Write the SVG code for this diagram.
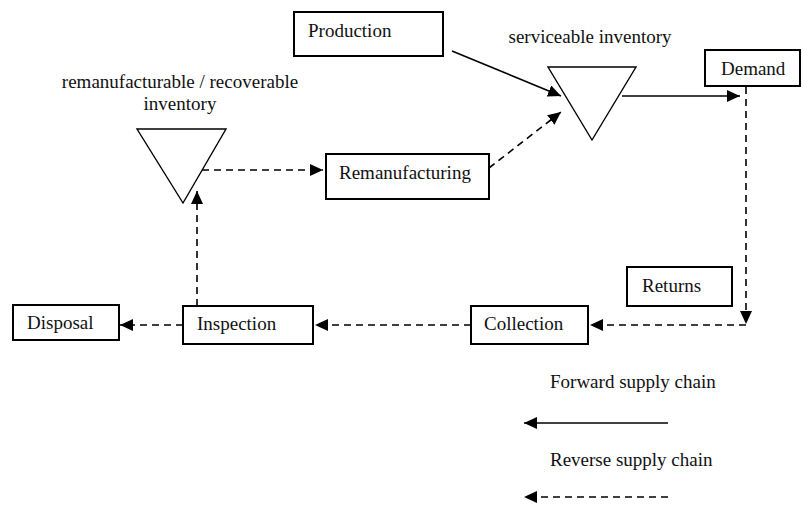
<svg xmlns="http://www.w3.org/2000/svg" width="803" height="508" viewBox="0 0 803 508">
<defs>
<style>
text{font-family:"Liberation Serif","Times New Roman",serif;font-size:19px;fill:#111}
.box{fill:#fff;stroke:#000;stroke-width:2}
.tri{fill:#fff;stroke:#000;stroke-width:1.4}
.c{fill:none;stroke:#000;stroke-width:1.6}
.d{stroke-dasharray:7 5}
</style>
<marker id="ah" viewBox="0 0 13 12" refX="13" refY="6" markerWidth="13" markerHeight="12" markerUnits="userSpaceOnUse" orient="auto">
<path d="M0,0 L13,6 L0,12 z" fill="#000"/>
</marker>
</defs>
<rect width="803" height="508" fill="#fff"/>
<g id="connectors">
<line class="c" x1="452" y1="51" x2="561" y2="96" marker-end="url(#ah)"/>
<line class="c d" x1="489" y1="168" x2="561" y2="112" marker-end="url(#ah)"/>
<line class="c" x1="622" y1="96" x2="740" y2="96" marker-end="url(#ah)"/>
<line class="c d" x1="746" y1="87" x2="746" y2="324" marker-end="url(#ah)"/>
<line class="c d" x1="746" y1="325" x2="590" y2="325" marker-end="url(#ah)"/>
<line class="c d" x1="471" y1="325" x2="315" y2="325" marker-end="url(#ah)"/>
<line class="c d" x1="183" y1="325" x2="120" y2="325" marker-end="url(#ah)"/>
<line class="c d" x1="197" y1="306" x2="197" y2="191" marker-end="url(#ah)"/>
<line class="c d" x1="202" y1="170" x2="323" y2="170" marker-end="url(#ah)"/>
</g>
<g id="production"><rect class="box" x="294" y="12" width="149" height="44"/><text x="308" y="37">Production</text></g>
<g id="serviceable-inventory"><text x="590" y="43" text-anchor="middle">serviceable inventory</text><polygon class="tri" points="548,67 636,67 592,140"/></g>
<g id="demand"><rect class="box" x="705" y="50" width="95" height="36"/><text x="721" y="75">Demand</text></g>
<g id="remanufacturable-inventory"><text x="180" y="88" text-anchor="middle">remanufacturable / recoverable</text><text x="180" y="110" text-anchor="middle">inventory</text><polygon class="tri" points="137,129 226,129 183,203"/></g>
<g id="remanufacturing"><rect class="box" x="326" y="154" width="163" height="45"/><text x="339" y="179">Remanufacturing</text></g>
<g id="returns"><rect class="box" x="627" y="267" width="105" height="39"/><text x="642" y="292">Returns</text></g>
<g id="collection"><rect class="box" x="471" y="306" width="117" height="38"/><text x="484" y="330">Collection</text></g>
<g id="inspection"><rect class="box" x="183" y="306" width="130" height="38"/><text x="197" y="330">Inspection</text></g>
<g id="disposal"><rect class="box" x="13" y="305" width="106" height="35"/><text x="27" y="329">Disposal</text></g>
<g id="legend">
<text x="550" y="388">Forward supply chain</text>
<line class="c" x1="668" y1="423" x2="524" y2="423" marker-end="url(#ah)"/>
<text x="550" y="466">Reverse supply chain</text>
<line class="c d" x1="668" y1="497" x2="524" y2="497" marker-end="url(#ah)"/>
</g>
</svg>
